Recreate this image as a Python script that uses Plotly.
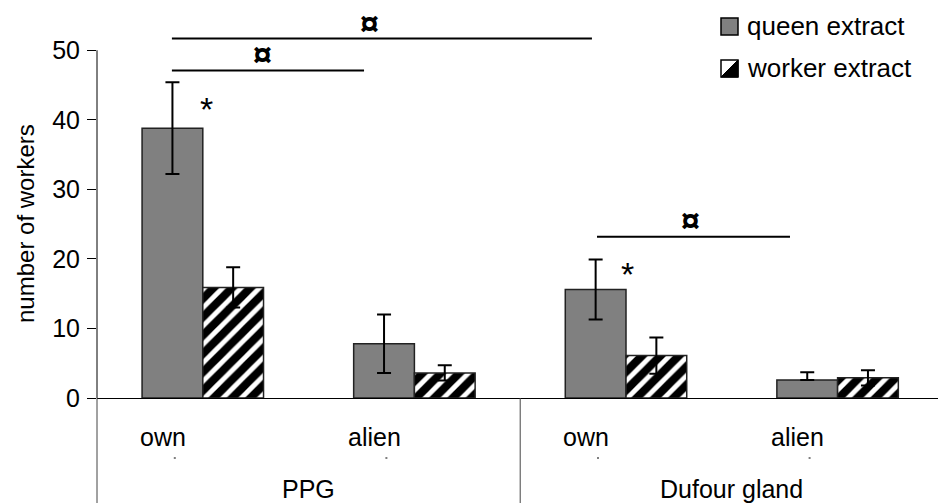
import plotly.graph_objects as go

# ---- data ----
categories = ["own PPG", "alien PPG", "own Dufour", "alien Dufour"]
cat_labels = ["own", "alien", "own", "alien"]
group_labels = ["PPG", "Dufour gland"]
queen_vals = [38.8, 7.8, 15.6, 2.6]
queen_err_plus = [6.6, 4.2, 4.3, 1.1]
queen_err_minus = [6.6, 4.2, 4.3, 0.0]
worker_vals = [15.9, 3.6, 6.1, 2.9]
worker_err = [2.9, 1.1, 2.6, 1.1]
series_names = ["queen extract", "worker extract"]
yticks = [0, 10, 20, 30, 40, 50]
# significance brackets: (x0, x1, y, symbol x, symbol y) in category units / data units
brackets = [(-0.146, 1.839, 51.7, 0.79, 53.9), (-0.146, 0.762, 47.1, 0.28, 49.4), (1.863, 2.775, 23.2, 2.307, 25.6)]
stars = [(0.017, 41.6), (2.007, 17.8)]

FONT = "Liberation Sans, Arial, sans-serif"
W, H = 938, 503
L, B = 97, 105
PH = H - B
x = list(range(len(categories)))

fig = go.Figure()
fig.add_trace(go.Bar(
    x=x, y=queen_vals, name=series_names[0],
    marker=dict(color="#808080", line=dict(color="#222222", width=1.5)),
    error_y=dict(type="data", array=queen_err_plus, arrayminus=queen_err_minus,
                 symmetric=False, color="black", thickness=2, width=7),
))
fig.add_trace(go.Bar(
    x=x, y=worker_vals, name=series_names[1],
    marker=dict(color="white", line=dict(color="#222222", width=1.5),
                pattern=dict(shape="/", fgcolor="#000000", bgcolor="white", fgopacity=1,
                             size=13, solidity=0.62)),
    error_y=dict(type="data", array=worker_err, color="black", thickness=2, width=7),
))

xr = [-0.5, -0.5 + (W - L) / 211.6]
fig.update_layout(
    width=W, height=H, margin=dict(l=L, r=0, t=0, b=B),
    paper_bgcolor="white", plot_bgcolor="white",
    barmode="group", bargap=0.426, bargroupgap=0,
    showlegend=False,
    font=dict(family=FONT, color="black"),
    xaxis=dict(range=xr, showgrid=False, zeroline=False, showticklabels=False,
               ticks="", showline=True, linecolor="black", linewidth=1),
    yaxis=dict(range=[0, 398.3 / 6.96], tickvals=yticks, showgrid=False, zeroline=False,
               showline=False, ticks="outside", ticklen=9, tickcolor="black", tickwidth=1,
               tickfont=dict(size=25, family=FONT), ticklabelstandoff=2),
)

def py(p):
    return (PH - p) / PH

def px(p):
    return (p - L) / (W - L)

# y axis line up to 50
fig.add_shape(type="line", xref="paper", yref="y", x0=0, x1=0, y0=0, y1=50,
              line=dict(color="black", width=1))
# category dividers
fig.add_shape(type="line", xref="paper", yref="paper", x0=0, x1=0, y0=py(H), y1=0,
              line=dict(color="#444444", width=1))
fig.add_shape(type="line", xref="x", yref="paper", x0=1.5, x1=1.5, y0=py(H), y1=0,
              line=dict(color="#444444", width=1))

# significance brackets
for x0, x1, yl, sx, sy in brackets:
    fig.add_shape(type="line", xref="x", yref="y", x0=x0, x1=x1, y0=yl, y1=yl,
                  line=dict(color="black", width=2))
    fig.add_annotation(x=sx, y=sy, xref="x", yref="y", text="<b>¤</b>", showarrow=False,
                       font=dict(size=34, family=FONT), xanchor="center", yanchor="middle")
for sx, sy in stars:
    fig.add_annotation(x=sx, y=sy, xref="x", yref="y", text="*", showarrow=False,
                       font=dict(size=34, family=FONT), xanchor="center", yanchor="middle")

# category labels
for i, lab in enumerate(cat_labels):
    fig.add_annotation(x=i, y=py(437), xref="x", yref="paper", text=lab, showarrow=False,
                       xshift=-40, font=dict(size=25, family=FONT), xanchor="center", yanchor="middle")
    fig.add_shape(type="line", xref="x", yref="paper", xsizemode="pixel", xanchor=i,
                  x0=-29, x1=-27, y0=py(458), y1=py(458), line=dict(color="black", width=1))
for g, lab in enumerate(group_labels):
    fig.add_annotation(x=0.5 + 2 * g, y=py(489), xref="x", yref="paper", text=lab, showarrow=False,
                       font=dict(size=25, family=FONT), xanchor="center", yanchor="middle")

# y title
fig.add_annotation(x=px(25), y=py(224), xref="paper", yref="paper", text="number of workers",
                   textangle=-90, showarrow=False, font=dict(size=24, family=FONT),
                   xanchor="center", yanchor="middle")

# custom legend
fig.add_shape(type="rect", xref="paper", yref="paper", x0=px(721), x1=px(738), y0=py(35), y1=py(18),
              fillcolor="#808080", line=dict(color="black", width=1.5))
fig.add_shape(type="rect", xref="paper", yref="paper", x0=px(721), x1=px(738), y0=py(77), y1=py(60),
              fillcolor="white", line=dict(color="black", width=1.5))
fig.add_shape(type="path", xref="paper", yref="paper",
              path=f"M {px(738)} {py(60)} L {px(738)} {py(77)} L {px(721)} {py(77)} Z",
              fillcolor="black", line=dict(color="black", width=1))
fig.add_annotation(x=px(745), y=py(26), xref="paper", yref="paper", text=series_names[0],
                   showarrow=False, font=dict(size=26, family=FONT), xanchor="left", yanchor="middle")
fig.add_annotation(x=px(745), y=py(68), xref="paper", yref="paper", text=series_names[1],
                   showarrow=False, font=dict(size=26, family=FONT), xanchor="left", yanchor="middle")

fig.write_html("out.html")
